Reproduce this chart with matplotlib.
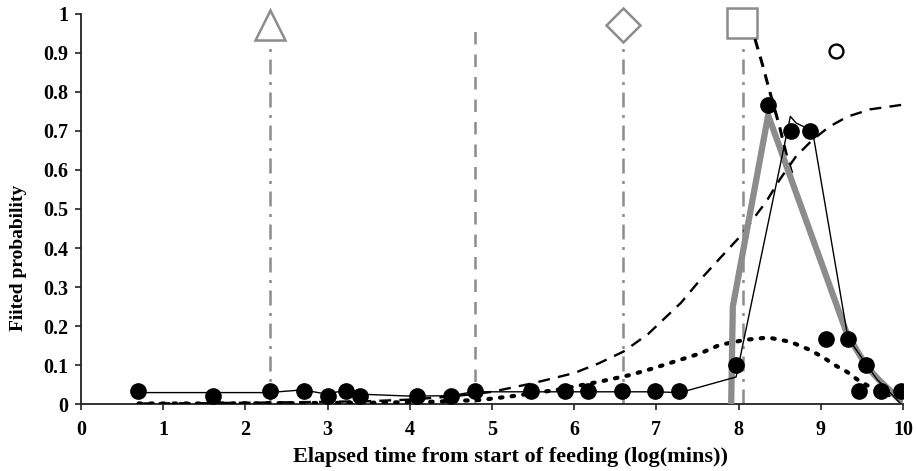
import numpy as np
import matplotlib
matplotlib.use("Agg")
import matplotlib.pyplot as plt

# observed proportions (black dots)
obs_x = [0.69, 1.61, 2.30, 2.71, 3.00, 3.22, 3.40, 4.09, 4.50, 4.79, 5.48, 5.89, 6.17,
         6.58, 6.98, 7.27, 7.97, 8.36, 8.64, 8.87, 9.06, 9.33, 9.46, 9.55, 9.73, 9.97]
obs_y = [0.033, 0.02, 0.033, 0.033, 0.02, 0.033, 0.02, 0.02, 0.02, 0.033, 0.033, 0.033, 0.033,
         0.033, 0.033, 0.033, 0.10, 0.767, 0.70, 0.70, 0.167, 0.167, 0.033, 0.10, 0.033, 0.033]

# thin solid line
thin_x = [0.69, 1.61, 2.28, 2.70, 2.99, 3.19, 3.39, 4.00, 4.50, 4.77, 5.48, 5.89, 6.17,
          6.58, 6.98, 7.29, 7.97, 8.63, 8.70, 8.90, 9.33, 9.68, 9.98]
thin_y = [0.03, 0.03, 0.03, 0.037, 0.026, 0.035, 0.026, 0.021, 0.022, 0.032, 0.032, 0.032, 0.032,
          0.032, 0.032, 0.03, 0.07, 0.737, 0.72, 0.70, 0.17, 0.065, 0.0]

# thick grey line
grey_x = [7.91, 7.93, 8.36, 9.32, 9.56, 9.72, 9.97]
grey_y = [0.0, 0.25, 0.74, 0.18, 0.096, 0.06, 0.01]

# rising fitted curve (long dashes)
rise_x = [0.7, 1.5, 2.5, 3.5, 4.0, 4.5, 4.85, 5.0, 5.5, 6.0, 6.3, 6.6, 6.9, 7.12, 7.3,
          7.53, 7.8, 8.02, 8.34, 8.5, 8.7, 8.9, 9.1, 9.32, 9.6, 10.0]
rise_y = [0.002, 0.003, 0.005, 0.008, 0.012, 0.02, 0.028, 0.032, 0.054, 0.08, 0.105, 0.135,
          0.18, 0.224, 0.26, 0.318, 0.38, 0.43, 0.52, 0.575, 0.635, 0.677, 0.71, 0.736, 0.755, 0.767]

# falling fitted curve (short dashes from the square)
fall_x = [8.20, 8.29, 8.38, 8.50, 8.58, 8.65]
fall_y = [0.935, 0.87, 0.80, 0.71, 0.64, 0.59]

# bell-shaped fitted curve (dots)
bell_x = [0.7, 1.5, 2.5, 3.5, 4.2, 4.85, 5.22, 5.79, 6.31, 6.68, 6.96, 7.53, 7.77, 8.08,
          8.36, 8.63, 8.87, 9.03, 9.19, 9.32, 9.44, 9.56, 9.72, 9.88, 9.96]
bell_y = [0.002, 0.002, 0.003, 0.004, 0.006, 0.011, 0.02, 0.037, 0.058, 0.075, 0.092, 0.13,
          0.152, 0.165, 0.171, 0.16, 0.139, 0.12, 0.098, 0.083, 0.064, 0.049, 0.032, 0.019, 0.011]

# stage markers: vertical guide lines and their symbols
guide_x = [2.30, 4.79, 6.60, 8.05]
guide_top = [0.92, 0.955, 0.93, 0.93]
guide_style = ["dashdot", "dashed", "dashdot", "dashdot"]
symbols = ["^", None, "D", "s"]
symbol_y = [0.97, None, 0.97, 0.975]
circle_pt = (9.19, 0.905)

grey = "#8c8c8c"

fig = plt.figure(figsize=(9.17, 4.71), dpi=100)
ax = fig.add_axes([0.0883, 0.1416, 0.8964, 0.8294])

dashdot = (0, (6, 3, 1.2, 3))
for gx, top, st, sym, sy in zip(guide_x, guide_top, guide_style, symbols, symbol_y):
    ls = dashdot if st == "dashdot" else (0, (5, 4))
    ax.plot([gx, gx], [0, top], color=grey, lw=1.8, ls=ls, zorder=1)
    if sym:
        ms = {"^": 21, "D": 17, "s": 22}[sym]
        ax.plot(gx - (0.01 if sym == "s" else 0), sy, marker=sym, ms=ms, mfc="white",
                mec=grey, mew=1.8, clip_on=False, zorder=2)

ax.plot(*circle_pt, marker="o", ms=10, mfc="white", mec="black", mew=1.7, zorder=3)

ax.plot(rise_x, rise_y, color="black", lw=1.7, ls=(0, (5, 3.5)), zorder=3)
ax.plot(fall_x, fall_y, color="black", lw=2.2, ls=(0, (3.5, 2.5)), zorder=3)
ax.plot(bell_x, bell_y, color="black", lw=3, ls=(0, (0.6, 2.2)),
        dash_capstyle="round", zorder=3)
ax.plot(grey_x, grey_y, color=grey, lw=4.5, zorder=4, solid_joinstyle="miter")
ax.plot(thin_x, thin_y, color="black", lw=1.0, zorder=5)
ax.plot(obs_x, obs_y, "o", color="black", ms=11, zorder=6)

ax.set_xlim(0, 10)
ax.set_ylim(0, 1)
ax.set_xticks(np.arange(0, 11, 1))
ax.set_yticks(np.round(np.arange(0, 1.01, 0.1), 1))
ax.set_yticklabels(["0", "0.1", "0.2", "0.3", "0.4", "0.5", "0.6", "0.7", "0.8", "0.9", "1"])

for side in ["top", "right"]:
    ax.spines[side].set_visible(False)
for side in ["left", "bottom"]:
    ax.spines[side].set_linewidth(1.3)
    ax.spines[side].set_color("#222222")

ax.tick_params(axis="both", direction="out", length=4, width=1.2, colors="#222222")
ax.tick_params(axis="x", pad=7)
ax.tick_params(axis="y", pad=5)
for lbl in ax.get_xticklabels() + ax.get_yticklabels():
    lbl.set_fontfamily("Liberation Serif")
    lbl.set_fontweight("bold")
    lbl.set_fontsize(14.5)
    lbl.set_color("black")

ax.set_xlabel("Elapsed time from start of feeding (log(mins))", fontfamily="Liberation Serif",
              fontweight="bold", fontsize=16)
ax.set_ylabel("Fiited probability", fontfamily="Liberation Serif",
              fontweight="bold", fontsize=14)
ax.xaxis.set_label_coords(0.523, -0.11)
ax.yaxis.set_label_coords(-0.066, 0.374)

fig.savefig("out.png", dpi=100)
